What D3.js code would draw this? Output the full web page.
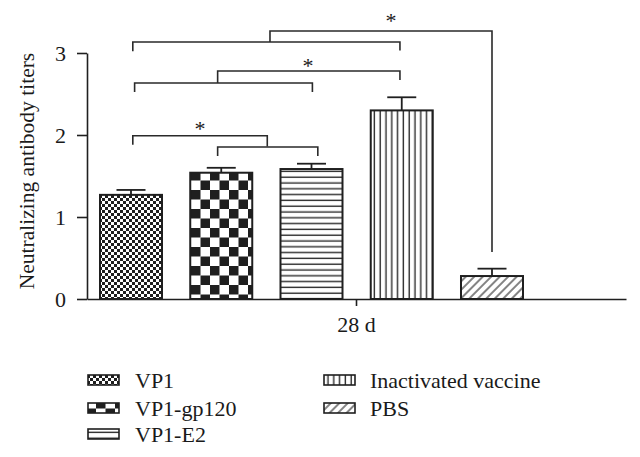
<!DOCTYPE html>
<html>
<head>
<meta charset="utf-8">
<script src="https://cdn.jsdelivr.net/npm/d3@7"></script>
<style>
  html, body { margin: 0; padding: 0; background: #fff; }
  svg { display: block; }
  text { font-family: "Liberation Serif", "DejaVu Serif", serif; fill: #1a1a1a; }
</style>
</head>
<body>
<svg id="chart" width="640" height="457"></svg>
<script>
// ---- data ----
const categories = ["VP1", "VP1-gp120", "VP1-E2", "Inactivated vaccine", "PBS"];
const means = [1.27, 1.54, 1.585, 2.30, 0.28];
const errUpper = [1.33, 1.60, 1.65, 2.46, 0.37];
const patternIds = ["pVP1", "pGP", "pE2", "pIN", "pPBS"];
const yTicks = [0, 1, 2, 3];
const xGroupLabel = "28 d";
const yLabel = "Neutralizing antibody titers";
// significance brackets: x in category-index units, y in titer units
const brackets = [
  { x0: 0.02, x1: 1.51, y: 1.99, y0: 1.88, y1: 1.86 },
  { x0: 0.96, x1: 2.07, y: 1.854, y0: 1.744, y1: 1.744 },
  { x0: 0.04, x1: 2.01, y: 2.634, y0: 2.524, y1: 2.524 },
  { x0: 0.96, x1: 2.98, y: 2.78, y0: 2.634, y1: 2.67 },
  { x0: 0.02, x1: 2.98, y: 3.134, y0: 3.02, y1: 3.03 },
  { x0: 1.54, x1: 4.00, y: 3.268, y0: 3.134, y1: 0.573 }
];
const stars = [
  { x: 0.765, y: 2.10 },
  { x: 1.96, y: 2.86 },
  { x: 2.88, y: 3.42 }
];
const legendCol1 = [0, 1, 2];
const legendCol2 = [3, 4];

// ---- layout ----
const svg = d3.select("#chart");
const plotLeft = 87, plotRight = 626, yZero = 299, yTop = 53;
const fs = 22;

const y = d3.scaleLinear().domain([0, 3]).range([yZero, yTop]);
const x = d3.scaleBand().domain(categories).range([100, 523]).paddingInner(0.313).paddingOuter(0);
const xi = d3.scaleLinear().domain([0, 4]).range([x(categories[0]) + x.bandwidth() / 2, x(categories[4]) + x.bandwidth() / 2]);

// ---- patterns ----
const defs = svg.append("defs");
const ink = "#1f1f1f";
{
  const p = defs.append("pattern").attr("id", "pVP1").attr("patternUnits", "userSpaceOnUse")
    .attr("width", 6).attr("height", 6).attr("x", 0).attr("y", 0);
  p.append("rect").attr("width", 6).attr("height", 6).attr("fill", "#fff");
  p.append("rect").attr("width", 3).attr("height", 3).attr("fill", ink);
  p.append("rect").attr("x", 3).attr("y", 3).attr("width", 3).attr("height", 3).attr("fill", ink);
}
{
  const s = 9.5;
  const p = defs.append("pattern").attr("id", "pGP").attr("patternUnits", "userSpaceOnUse")
    .attr("width", 2 * s).attr("height", 2 * s).attr("x", 191).attr("y", 0);
  p.append("rect").attr("width", 2 * s).attr("height", 2 * s).attr("fill", "#fff");
  p.append("rect").attr("width", s).attr("height", s).attr("fill", ink);
  p.append("rect").attr("x", s).attr("y", s).attr("width", s).attr("height", s).attr("fill", ink);
}
{
  const p = defs.append("pattern").attr("id", "pE2").attr("patternUnits", "userSpaceOnUse")
    .attr("width", 10).attr("height", 5.8).attr("x", 0).attr("y", 0);
  p.append("rect").attr("width", 10).attr("height", 5.8).attr("fill", "#fff");
  p.append("rect").attr("y", 2.5).attr("width", 10).attr("height", 1.4).attr("fill", "#2a2a2a");
}
{
  const p = defs.append("pattern").attr("id", "pIN").attr("patternUnits", "userSpaceOnUse")
    .attr("width", 5.8).attr("height", 10).attr("x", 0).attr("y", 0);
  p.append("rect").attr("width", 5.8).attr("height", 10).attr("fill", "#fff");
  p.append("rect").attr("x", 2.5).attr("width", 1.4).attr("height", 10).attr("fill", "#2a2a2a");
}
{
  const p = defs.append("pattern").attr("id", "pPBS").attr("patternUnits", "userSpaceOnUse")
    .attr("width", 6).attr("height", 6).attr("patternTransform", "rotate(45)");
  p.append("rect").attr("width", 6).attr("height", 6).attr("fill", "#fff");
  p.append("rect").attr("x", 2.4).attr("width", 1.2).attr("height", 6).attr("fill", "#333");
}

// ---- bars ----
const bars = svg.append("g");
categories.forEach((c, i) => {
  const cx = x(c) + x.bandwidth() / 2;
  bars.append("line").attr("x1", cx).attr("x2", cx).attr("y1", y(means[i])).attr("y2", y(errUpper[i]))
    .attr("stroke", ink).attr("stroke-width", 1.8);
  bars.append("line").attr("x1", cx - 14.5).attr("x2", cx + 14.5).attr("y1", y(errUpper[i])).attr("y2", y(errUpper[i]))
    .attr("stroke", ink).attr("stroke-width", 1.8);
  bars.append("rect")
    .attr("x", x(c)).attr("y", y(means[i]))
    .attr("width", x.bandwidth()).attr("height", y(0) - y(means[i]))
    .attr("fill", `url(#${patternIds[i]})`)
    .attr("stroke", ink).attr("stroke-width", 2);
});

// ---- axes ----
const yAxis = d3.axisLeft(y).tickValues(yTicks).tickFormat(d3.format("d")).tickSize(10).tickSizeOuter(0).tickPadding(11);
const gy = svg.append("g").attr("transform", `translate(${plotLeft},0)`).call(yAxis);
gy.select(".domain").attr("stroke", ink).attr("stroke-width", 1.6);
gy.selectAll(".tick line").attr("stroke", ink).attr("stroke-width", 1.6);
gy.selectAll(".tick text").attr("font-size", fs).attr("font-family", "Liberation Serif").attr("fill", ink);

const xg = d3.scaleBand().domain([xGroupLabel]).range([plotLeft, plotRight]);
const xAxis = d3.axisBottom(xg).tickSize(7).tickSizeOuter(0).tickPadding(10);
const gx = svg.append("g").attr("transform", `translate(0,${yZero})`).call(xAxis);
gx.select(".domain").attr("stroke", ink).attr("stroke-width", 1.6);
gx.selectAll(".tick line").attr("stroke", ink).attr("stroke-width", 1.6);
gx.selectAll(".tick text").attr("font-size", fs).attr("font-family", "Liberation Serif").attr("fill", ink);

svg.append("text").attr("transform", `translate(34,171) rotate(-90)`)
  .attr("text-anchor", "middle").attr("font-size", 21.5).text(yLabel);

// ---- brackets ----
const bg = svg.append("g").attr("fill", "none").attr("stroke", "#2a2a2a").attr("stroke-width", 1.6);
brackets.forEach(b => {
  bg.append("path").attr("d",
    `M${xi(b.x0)},${y(b.y0)} V${y(b.y)} H${xi(b.x1)} V${y(b.y1)}`);
});
stars.forEach(s => {
  svg.append("text").attr("x", xi(s.x)).attr("y", y(s.y) + 9).attr("text-anchor", "middle")
    .attr("font-size", fs).text("*");
});

// ---- legend ----
const lg = svg.append("g");
function legendItem(i, sx, tx, row) {
  const rowTop = [375, 403, 429][row];
  lg.append("rect").attr("x", sx).attr("y", rowTop).attr("width", 31).attr("height", 10)
    .attr("fill", `url(#${patternIds[i]})`).attr("stroke", ink).attr("stroke-width", 1.6);
  lg.append("text").attr("x", tx).attr("y", rowTop + 13).attr("font-size", fs).text(categories[i]);
}
legendCol1.forEach((i, r) => legendItem(i, 88, 135, r));
legendCol2.forEach((i, r) => legendItem(i, 324, 370, r));
</script>
</body>
</html>
